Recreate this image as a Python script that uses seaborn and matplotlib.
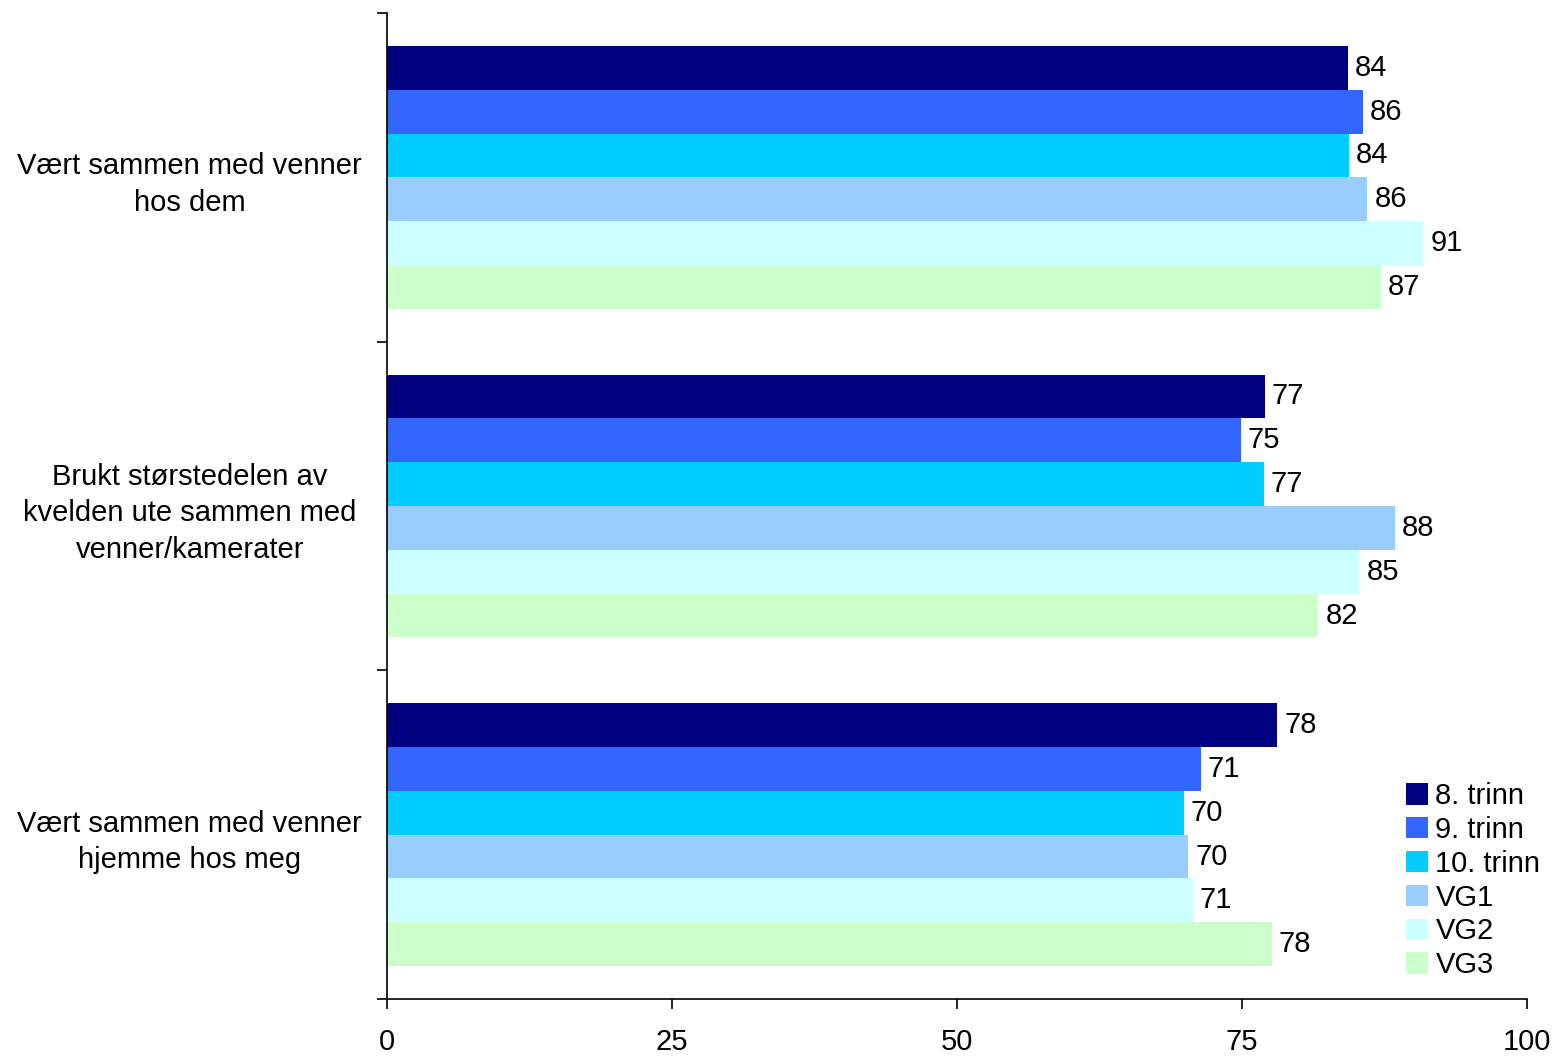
import pandas as pd
import matplotlib.pyplot as plt
import seaborn as sns

sns.set_style("white")
plt.rcParams['font.family'] = ['Liberation Sans', 'DejaVu Sans']
plt.rcParams['text.color'] = 'black'
plt.rcParams['xtick.color'] = 'black'
plt.rcParams['ytick.color'] = 'black'

categories = [
    "Vært sammen med venner\nhos dem",
    "Brukt størstedelen av\nkvelden ute sammen med\nvenner/kamerater",
    "Vært sammen med venner\nhjemme hos meg",
]
grades = ["8. trinn", "9. trinn", "10. trinn", "VG1", "VG2", "VG3"]
values_8 = [84.3, 77.0, 78.1]
values_9 = [85.6, 74.9, 71.4]
values_10 = [84.4, 76.9, 69.9]
values_vg1 = [86.0, 88.4, 70.3]
values_vg2 = [90.9, 85.3, 70.7]
values_vg3 = [87.2, 81.7, 77.6]
colors = ["#000080", "#3366FF", "#00CCFF", "#99CCFF", "#CCFFFF", "#CCFFCC"]

series = [values_8, values_9, values_10, values_vg1, values_vg2, values_vg3]
rows = []
for g, vals in zip(grades, series):
    for c, v in zip(categories, vals):
        rows.append({"kategori": c, "trinn": g, "prosent": v})
df = pd.DataFrame(rows)

FS = 21

fig = plt.figure(figsize=(15.56, 10.57), dpi=100)
ax = fig.add_axes([0.2487, 0.0549, 0.7327, 0.9328])

sns.barplot(data=df, y="kategori", x="prosent", hue="trinn", order=categories,
            hue_order=grades, palette=colors, orient="h", width=0.8,
            linewidth=0, saturation=1, ax=ax)

for cont in ax.containers:
    ax.bar_label(cont, fmt="%.0f", padding=5, fontsize=FS)

ax.set_xlim(0, 100)
ax.set_ylim(2.5, -0.5)
ax.set_xticks([0, 25, 50, 75, 100])
ax.tick_params(axis="x", bottom=True, labelsize=FS, length=7, width=1.2,
               direction="out", pad=14)
ax.set_yticks([-0.5, 0.5, 1.5, 2.5])
ax.set_yticklabels([])
ax.tick_params(axis="y", which="major", left=True, length=7, width=1.2, direction="out")
ax.set_yticks([0, 1, 2], minor=True)
ax.set_yticklabels(categories, minor=True, fontsize=FS, ha="center", linespacing=1.38)
ax.tick_params(axis="y", which="minor", length=0, pad=142)
ax.set_xlabel("")
ax.set_ylabel("")

for s in ["top", "right"]:
    ax.spines[s].set_visible(False)
for s in ["left", "bottom"]:
    ax.spines[s].set_color("black")
    ax.spines[s].set_linewidth(1.2)

ax.legend(title=None, frameon=False, loc="lower left",
          bbox_to_anchor=(0.894, 0.02), borderaxespad=0, borderpad=0,
          fontsize=FS, handlelength=0.75, handleheight=0.75,
          handletextpad=0.25, labelspacing=0.2)

plt.savefig("out.png", dpi=100)
plt.close()
